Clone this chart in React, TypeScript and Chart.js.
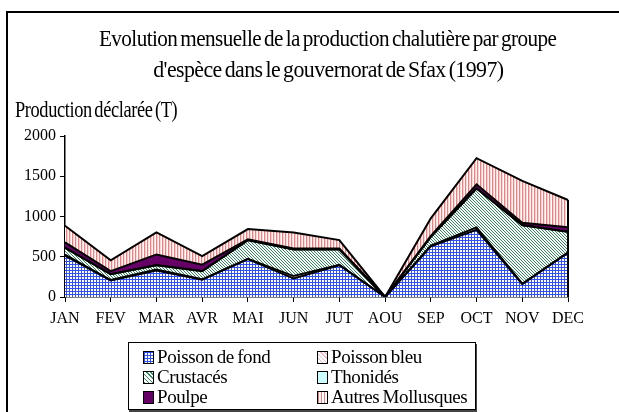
import React, { useEffect, useRef } from "react";
import { Chart, registerables } from "chart.js";

Chart.register(...registerables);

const months = ["JAN", "FEV", "MAR", "AVR", "MAI", "JUN", "JUT", "AOU", "SEP", "OCT", "NOV", "DEC"];
const poissonDeFond = [515, 205, 330, 215, 470, 230, 395, 0, 630, 835, 160, 550];
const poissonBleu = [10, 5, 10, 5, 5, 30, 5, 0, 10, 30, 5, 5];
const crustaces = [85, 72, 54, 100, 230, 330, 190, 0, 107, 483, 727, 254];
const thonides = [2, 2, 2, 2, 2, 2, 2, 0, 2, 2, 2, 2];
const poulpe = [67, 38, 133, 80, 10, 10, 10, 0, 10, 50, 29, 54];
const autresMollusques = [206, 133, 274, 105, 127, 200, 105, 0, 218, 324, 519, 340];
const yTicks = [0, 500, 1000, 1500, 2000];

const FONT = "'Liberation Serif', 'Times New Roman', serif";

function makePattern(kind: string): CanvasPattern | string {
  const c = document.createElement("canvas");
  const ctx = c.getContext("2d")!;
  if (kind === "fond") {
    c.width = 3; c.height = 3;
    ctx.fillStyle = "#ffffff"; ctx.fillRect(0, 0, 3, 3);
    ctx.fillStyle = "#3050ff"; ctx.fillRect(0, 0, 3, 1); ctx.fillRect(0, 0, 1, 3);
  } else if (kind === "bleu") {
    c.width = 4; c.height = 4;
    ctx.fillStyle = "#ffffff"; ctx.fillRect(0, 0, 4, 4);
    ctx.fillStyle = "#f5a0b0"; ctx.fillRect(0, 0, 1, 1); ctx.fillRect(2, 2, 1, 1);
  } else if (kind === "crust") {
    c.width = 3; c.height = 3;
    ctx.fillStyle = "#ffffff"; ctx.fillRect(0, 0, 3, 3);
    ctx.fillStyle = "#2e8b5a";
    for (let i = 0; i < 3; i++) ctx.fillRect(i, i, 1, 1);
  } else if (kind === "autres") {
    c.width = 3; c.height = 1;
    ctx.fillStyle = "#ffffff"; ctx.fillRect(0, 0, 3, 1);
    ctx.fillStyle = "#ff7878"; ctx.fillRect(0, 0, 1, 1);
    ctx.fillStyle = "#ffd6d6"; ctx.fillRect(1, 0, 1, 1);
  }
  return ctx.createPattern(c, "repeat")!;
}

const swatchStyles: Record<string, React.CSSProperties> = {
  fond: {
    backgroundColor: "#fff",
    backgroundImage:
      "linear-gradient(#3050ff 1px, transparent 1px), linear-gradient(90deg, #3050ff 1px, transparent 1px)",
    backgroundSize: "3px 3px",
  },
  bleu: { background: "repeating-linear-gradient(45deg, #f5b8c4 0 1px, #fff 1px 3px)" },
  crust: { background: "repeating-linear-gradient(45deg, #2e8b5a 0 1px, #fff 1px 3px)" },
  thon: { background: "#ccffff" },
  poulpe: { background: "#660066" },
  autres: { background: "repeating-linear-gradient(90deg, #ff7878 0 1px, #fff 1px 3px)" },
};

const legendItems = [
  { label: "Poisson de fond", key: "fond", col: 0, row: 0 },
  { label: "Poisson bleu", key: "bleu", col: 1, row: 0 },
  { label: "Crustacés", key: "crust", col: 0, row: 1 },
  { label: "Thonidés", key: "thon", col: 1, row: 1 },
  { label: "Poulpe", key: "poulpe", col: 0, row: 2 },
  { label: "Autres Mollusques", key: "autres", col: 1, row: 2 },
];

export default function App() {
  const ref = useRef<HTMLCanvasElement>(null);

  useEffect(() => {
    if (!ref.current) return;
    const series = [
      { label: "Poisson de fond", data: poissonDeFond, bg: makePattern("fond") },
      { label: "Poisson bleu", data: poissonBleu, bg: makePattern("bleu") },
      { label: "Crustacés", data: crustaces, bg: makePattern("crust") },
      { label: "Thonidés", data: thonides, bg: "#ccffff" },
      { label: "Poulpe", data: poulpe, bg: "#660066" },
      { label: "Autres Mollusques", data: autresMollusques, bg: makePattern("autres") },
    ];

    const edgePlugin = {
      id: "edge",
      afterDatasetsDraw(chart: any) {
        const n = chart.data.datasets.length;
        const meta = chart.getDatasetMeta(n - 1);
        const pts = meta.data;
        if (!pts.length) return;
        const last = pts[pts.length - 1];
        const ctx = chart.ctx;
        ctx.save();
        ctx.strokeStyle = "#000";
        ctx.lineWidth = 2;
        ctx.beginPath();
        ctx.moveTo(last.x, chart.scales.y.getPixelForValue(0));
        ctx.lineTo(last.x, last.y);
        ctx.stroke();
        ctx.restore();
      },
    };

    const chart = new Chart(ref.current, {
      type: "line",
      data: {
        labels: months,
        datasets: series.map((s, i) => ({
          label: s.label,
          data: s.data,
          backgroundColor: s.bg as any,
          borderColor: "#000",
          borderWidth: 2,
          pointRadius: 0,
          tension: 0,
          fill: i === 0 ? "origin" : "-1",
        })),
      },
      options: {
        responsive: false,
        animation: false,
        layout: { padding: { left: 0, top: 136, right: 51, bottom: 0 } },
        plugins: {
          legend: { display: false },
          title: { display: false },
          tooltip: { enabled: false },
          filler: { drawTime: "beforeDatasetsDraw" },
        } as any,
        scales: {
          x: {
            offset: false,
            grid: { drawOnChartArea: false, color: "#000", tickLength: 5, tickWidth: 1 },
            border: { color: "#000", width: 1.5 },
            ticks: { color: "#000", font: { family: FONT, size: 16 }, padding: 7, maxRotation: 0, autoSkip: false },
            afterFit: (s: any) => { s.height = 115; },
          },
          y: {
            stacked: true,
            min: 0,
            max: 2000,
            afterBuildTicks: (s: any) => { s.ticks = yTicks.map((v) => ({ value: v })); },
            grid: { drawOnChartArea: false, color: "#000", tickLength: 5, tickWidth: 1 },
            border: { color: "#000", width: 1.5 },
            ticks: {
              color: "#000",
              font: { family: FONT, size: 16 },
              padding: 4,
              callback: (v: any) => String(v),
            },
            afterFit: (s: any) => { s.width = 65; },
          },
        },
      },
      plugins: [edgePlugin],
    });
    return () => chart.destroy();
  }, []);

  const titleStyle: React.CSSProperties = {
    position: "absolute", left: 0, width: 656, textAlign: "center", fontSize: 23,
    lineHeight: "23px", whiteSpace: "nowrap", letterSpacing: "-0.6px", wordSpacing: "-2px",
  };

  return (
    <div style={{ position: "fixed", left: 0, top: 0, width: 619, height: 412, overflow: "hidden", background: "#fff", fontFamily: FONT, color: "#000" }}>
      <div style={{ position: "absolute", left: 6, top: 11, width: 700, height: 500, border: "2px solid #000" }} />
      <canvas ref={ref} width={619} height={412} style={{ position: "absolute", left: 0, top: 0 }} />
      <div style={{ ...titleStyle, top: 26.5 }}>
        <span style={{ display: "inline-block", transform: "scaleX(0.92)" }}>Evolution mensuelle de la production chalutière par groupe</span>
      </div>
      <div style={{ ...titleStyle, top: 57.5 }}>
        <span style={{ display: "inline-block", transform: "scaleX(0.95)" }}>d'espèce dans le gouvernorat de Sfax (1997)</span>
      </div>
      <div style={{ position: "absolute", left: 15, top: 97.5, fontSize: 23, lineHeight: "23px", whiteSpace: "nowrap", letterSpacing: "-0.5px", wordSpacing: "-2px", transform: "scaleX(0.8)", transformOrigin: "left center" }}>
        Production déclarée (T)
      </div>
      <div style={{ position: "absolute", left: 128, top: 342, width: 346, height: 66, border: "1px solid #000", boxShadow: "1px 2px 0 #444", background: "#fff" }} />
      {legendItems.map((it) => (
        <React.Fragment key={it.key}>
          <div style={{ position: "absolute", left: it.col === 0 ? 143 : 317, top: 351 + it.row * 20, width: 9, height: 11, border: "1px solid #000", ...swatchStyles[it.key] }} />
          <div style={{ position: "absolute", left: it.col === 0 ? 157 : 331, top: 347 + it.row * 20, fontSize: 19, lineHeight: "19px", whiteSpace: "nowrap", letterSpacing: "-0.4px", wordSpacing: "-1px" }}>{it.label}</div>
        </React.Fragment>
      ))}
    </div>
  );
}
